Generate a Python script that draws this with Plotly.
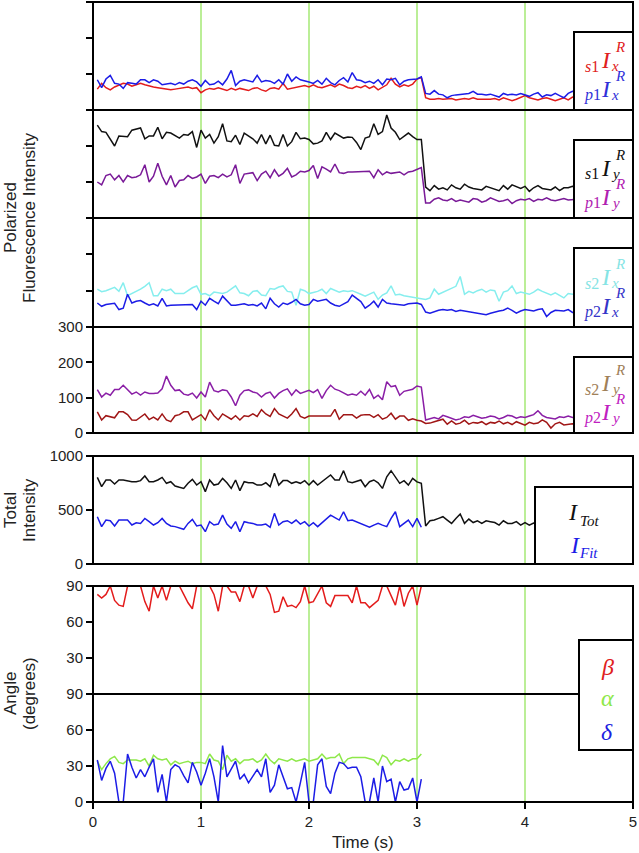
import plotly.graph_objects as go

W, H = 639, 853
DT = 0.04  # sampling interval (s)

# ---------------- data ----------------
# Panel 1 (0-300)
s1Ix = [58,74,62,56,64,70,74,72,66,70, 74,70,66,64,62,60,58,56,58,60,
        62,64,60,62,48,56,60,58,62,58, 54,60,56,60,58,54,60,62,56,52,
        60,62,58,74,58,60,64,66,68,64, 70,64,62,66,70,64,72,68,62,60,
        66,62,68,60,66,56,62,70,88,72, 64,70,66,72,86,90,
        34,30,30,32,30,30,32,28,30,32, 30,34,30,30,28,30,32,28,34,30,
        26,30,36,40,34,30,28,32,34,30, 26,30,34,28,36,34]
p1Ix = [84,62,86,96,74,72,60,76,74,72, 84,84,76,84,80,70,72,74,70,76,
        72,80,84,78,66,82,70,72,80,70, 86,110,68,80,84,82,78,96,78,82,
        80,74,84,72,100,80,92,84,82,78, 74,82,72,88,76,70,82,90,78,104,
        84,82,76,80,74,84,70,86,84,88, 70,80,84,84,86,92,
        46,44,54,44,42,34,40,42,44,44, 46,52,44,44,42,44,40,36,46,42,
        44,42,46,42,38,44,48,36,42,40, 46,40,34,46,52,50]
# Panel 2 (0-300)
s1Iy = [258,240,238,218,200,228,228,226,244,248, 250,220,228,228,252,220,238,236,228,222,
        232,230,240,196,244,222,232,208,226,262, 214,212,230,204,236,228,220,208,232,206,
        230,202,200,232,200,212,238,220,222,218, 206,208,214,238,218,236,228,222,225,224,
        210,190,222,226,262,232,240,286,250,238, 218,226,236,226,218,218,
        86,76,90,80,84,78,92,84,80,94, 86,82,80,78,88,84,82,76,90,80,
        92,86,82,88,74,84,90,82,80,78, 86,76,84,84,88,86]
p1Iy = [100,92,118,122,106,118,100,118,112,114, 120,148,100,116,152,116,92,118,86,104,
        106,118,110,114,122,96,116,118,112,122, 114,120,148,96,122,124,126,104,122,130,
        112,134,116,124,138,114,120,130,128,132, 146,110,142,136,128,150,126,124,128,128,
        128,130,128,130,112,134,120,128,124,126, 128,120,128,130,134,140,
        42,42,52,56,50,48,54,46,50,48, 44,54,52,44,48,56,50,46,48,52,
        40,48,52,50,54,46,52,50,56,50, 48,52,54,50,50,52]
# Panel 3 (0-300)
s2Ix = [104,97,100,104,109,98,122,86,92,97, 104,112,122,86,86,104,100,104,92,92,
        92,100,108,113,90,92,86,96,94,92, 96,104,113,94,92,86,98,100,88,86,
        106,104,110,113,98,96,60,104,100,92, 94,98,104,92,106,100,96,100,98,100,
        94,90,85,90,96,76,88,94,113,88, 90,86,84,82,80,78,
        76,80,104,90,96,100,106,112,139,90, 98,94,100,104,96,102,100,71,96,100,
        113,92,96,94,90,96,104,98,92,88, 94,86,80,92,90,92]
p2Ix = [66,57,62,64,65,48,52,90,66,71, 73,66,60,64,58,79,58,60,60,62,
        62,60,62,48,71,60,79,71,64,85, 71,60,60,62,64,60,62,58,66,50,
        79,64,55,66,62,68,76,64,60,62, 76,71,73,76,66,60,57,64,70,88,
        80,70,52,60,71,55,76,66,64,62, 62,60,64,66,66,62,
        41,38,43,46,48,46,48,43,46,44, 42,40,38,36,34,38,42,44,46,52,
        46,38,44,48,46,44,48,50,29,40, 46,46,44,48,40,40]
# Panel 4 (0-300)
s2Iy = [60,37,49,45,43,60,60,52,37,36, 45,54,38,45,37,54,37,32,49,52,
        60,60,37,45,52,37,66,49,37,54, 47,39,49,37,49,47,54,47,66,54,
        47,69,54,47,42,54,69,47,42,48, 48,48,48,48,48,67,39,52,52,52,
        42,50,52,52,44,52,39,44,56,39, 48,48,36,40,36,34,
        27,28,32,36,39,25,34,25,28,36, 25,30,28,32,24,30,28,34,26,30,
        24,32,28,22,30,26,28,37,30,14, 26,30,23,24,26,24]
p2Iy = [123,102,113,107,123,123,135,123,110,116, 107,116,112,112,113,125,161,135,120,122,
        110,107,113,99,116,102,144,120,116,122, 120,102,77,107,120,122,116,113,102,112,
        116,99,112,120,125,107,122,112,116,121, 114,123,98,120,135,124,120,114,107,110,
        107,118,107,123,98,107,94,145,131,134, 107,118,122,124,133,130,
        37,40,44,40,50,46,42,37,40,46, 44,50,46,42,44,48,46,40,44,50,
        48,42,46,44,48,52,63,50,44,42, 40,46,44,48,44,46]
# Panel 5 (0-1000)
ITot = [802,716,778,778,741,778,778,768,762,762, 772,815,762,762,778,802,747,762,722,710,
        700,747,784,731,762,670,778,731,741,793, 752,700,778,679,762,752,752,731,731,752,
        716,840,731,772,772,747,762,747,772,731, 772,731,762,793,824,778,778,864,762,752,
        768,778,716,762,778,752,700,808,864,802, 747,772,731,793,760,747,
        352,400,407,422,438,407,376,422,463,376, 416,384,400,376,400,392,384,360,400,376,
        376,392,360,384,360,380,376,392,407,440, 450,460,450,440,455,450]
IFit = [438,346,407,401,352,407,407,407,361,382, 376,422,392,361,382,422,376,352,346,330,
        321,376,413,352,361,299,392,361,370,453, 370,330,392,299,392,382,376,361,361,370,
        340,469,361,392,401,376,407,370,392,352, 382,346,380,413,453,430,407,484,401,407,
        390,376,360,340,360,376,360,346,422,484, 346,380,407,346,422,340]
# Panel 6 (angles, degrees)
beta = [83,80,83,90,78,74,73,90,90,90, 90,77,69,90,80,90,78,90,90,90,
        83,76,71,90,90,90,90,83,69,90, 90,85,85,77,90,90,80,90,90,90,
        83,68,69,81,73,74,72,77,90,76, 77,83,90,76,73,82,82,82,82,76,
        90,76,76,72,75,78,90,90,82,74, 90,73,84,90,74,90]
alpha = [34,27,32,36,38,33,32,35,35,35, 34,36,30,39,36,35,36,31,34,32,
         33,34,32,33,33,32,40,35,34,27, 39,34,36,32,35,35,36,33,35,40,
         35,32,36,35,34,36,34,35,36,34, 35,36,40,36,37,37,40,32,36,37,
         37,37,37,36,35,31,39,37,31,35, 34,36,34,36,36,40]
delta = [35,18,28,34,24,0,0,40,29,20, 27,21,29,36,8,23,0,27,31,29,
         22,16,33,25,14,24,36,21,0,47, 21,28,34,19,23,16,22,27,21,36,
         8,14,31,21,11,12,0,16,33,0, 0,31,36,13,7,24,33,32,28,29,
         29,21,0,0,20,0,30,17,19,0, 17,10,11,20,0,19]

x_ticks = [0, 1, 2, 3, 4, 5]
marker_times = [1, 2, 3, 4]

# ---------------- helpers ----------------
def fx(p):
    return p / W

def fy(p):
    return 1 - p / H

def times(vals):
    return [round(DT * (i + 1), 2) for i in range(len(vals))]

X0, X1 = 93, 633
panels = [(2, 110), (110, 218), (218, 327), (327, 433), (456, 564), (586, 694), (694, 802)]

fig = go.Figure()

def add(vals, color, ax, width=1.5):
    fig.add_trace(go.Scatter(x=times(vals), y=vals, mode="lines",
                             line=dict(color=color, width=width),
                             xaxis="x", yaxis=ax, showlegend=False, hoverinfo="skip"))

RED, BLUE, BLACK = "#e31c1c", "#1c1ce6", "#111111"
add(s1Ix, RED, "y")
add(p1Ix, BLUE, "y")
add(s1Iy, BLACK, "y2")
add(p1Iy, "#7a1a98", "y2")
add(s2Ix, "#86eeee", "y3")
add(p2Ix, "#1c1ce6", "y3")
add(s2Iy, "#a01616", "y4")
add(p2Iy, "#8a1ea6", "y4")
add(ITot, BLACK, "y5")
add(IFit, BLUE, "y5")
add(beta, RED, "y6")
add(alpha, "#8ee84a", "y7")
add(delta, BLUE, "y7")

tickfont = dict(family="Liberation Sans, Arial, sans-serif", size=15, color="#222")
common = dict(showgrid=False, zeroline=False, ticks="outside", ticklen=6, tickwidth=1.5,
              tickcolor="black", showline=False, tickfont=tickfont, anchor="x",
              automargin=False)

ycfg = [
    dict(range=[0, 300], tickvals=[0, 100, 200, 300], ticktext=["", "", "", ""]),
    dict(range=[0, 300], tickvals=[0, 100, 200, 300], ticktext=["", "", "", ""]),
    dict(range=[0, 300], tickvals=[0, 100, 200, 300], ticktext=["", "", "", ""]),
    dict(range=[0, 300], tickvals=[0, 100, 200, 300], ticktext=["0", "100", "200", "300"]),
    dict(range=[0, 1000], tickvals=[0, 500, 1000], ticktext=["0", "500", "1000"]),
    dict(range=[0, 90], tickvals=[0, 30, 60, 90], ticktext=["", "30", "60", "90"]),
    dict(range=[0, 90], tickvals=[0, 30, 60, 90], ticktext=["0", "30", "60", "90"]),
]

layout = dict(
    width=W, height=H, margin=dict(l=0, r=0, t=0, b=0, pad=0, autoexpand=False),
    paper_bgcolor="white", plot_bgcolor="rgba(0,0,0,0)",
    xaxis=dict(domain=[fx(X0), fx(X1)], range=[0, 5], anchor="y7", tickvals=x_ticks,
               ticktext=[str(v) for v in x_ticks], showgrid=False, zeroline=False,
               ticks="outside", ticklen=6, tickwidth=1.5, tickcolor="black",
               showline=False, tickfont=tickfont, automargin=False),
)
for k, ((top, bot), cfg) in enumerate(zip(panels, ycfg)):
    name = "yaxis" if k == 0 else f"yaxis{k+1}"
    d = dict(common)
    d.update(cfg)
    d["domain"] = [fy(bot), fy(top)]
    layout[name] = d
fig.update_layout(**layout)

shapes = []
# green time markers (behind data)
for tm in marker_times:
    for top, bot in [(2, 433), (456, 564), (586, 802)]:
        shapes.append(dict(type="line", xref="x", yref="paper", x0=tm, x1=tm,
                           y0=fy(bot), y1=fy(top), layer="below",
                           line=dict(color="#a4e874", width=1.5)))
# frames
for top, bot in [(2, 433), (456, 564), (586, 802)]:
    shapes.append(dict(type="rect", xref="paper", yref="paper", x0=fx(X0), x1=fx(X1),
                       y0=fy(bot), y1=fy(top), line=dict(color="black", width=2)))
for yy in [110, 218, 327, 694]:
    shapes.append(dict(type="line", xref="paper", yref="paper", x0=fx(X0), x1=fx(X1),
                       y0=fy(yy), y1=fy(yy), line=dict(color="black", width=2)))
# legend boxes
boxes = [(574, 32, 633, 110), (574, 140, 633, 218), (574, 248, 633, 327),
         (574, 357, 633, 433), (535, 487, 633, 564), (579, 640, 633, 750)]
for x0, y0, x1, y1 in boxes:
    shapes.append(dict(type="rect", xref="paper", yref="paper", x0=fx(x0), x1=fx(x1),
                       y0=fy(y1), y1=fy(y0), fillcolor="white",
                       line=dict(color="black", width=2)))
fig.update_layout(shapes=shapes)

SERIF = "Liberation Serif, Times New Roman, serif"
ann = []

def txt(x, y, text, size, color, angle=0, family=SERIF):
    ann.append(dict(x=fx(x), y=fy(y), xref="paper", yref="paper", text=text,
                    showarrow=False, xanchor="center", yanchor="middle", textangle=angle,
                    borderpad=0, font=dict(family=family, size=size, color=color)))

def entry(cx, c, prefix, sub, color):
    txt(cx, c, "<i>I</i>", 24, color)
    txt(cx - 14, c + 6, prefix, 16, color)
    txt(cx + 9, c + 6, f"<i>{sub}</i>", 15, color)
    txt(cx + 14, c - 13, "<i>R</i>", 15, color)

legend_rows = [
    (110, [("<i>s</i>1", "x", "#e02020"), ("<i>p</i>1", "x", "#3030d8")]),
    (218, [("<i>s</i>1", "y", "#111111"), ("<i>p</i>1", "y", "#b020b0")]),
    (327, [("<i>s</i>2", "x", "#86e4e4"), ("<i>p</i>2", "x", "#3434c8")]),
    (433, [("<i>s</i>2", "y", "#a08058"), ("<i>p</i>2", "y", "#c020c0")]),
]
for b, (e1, e2) in legend_rows:
    entry(606, b - 50, *e1)
    entry(606, b - 21, *e2)

# total intensity legend
txt(573, 512, "<i>I</i>", 24, BLACK)
txt(589, 521, "<i>Tot</i>", 15, BLACK)
txt(575, 545, "<i>I</i>", 24, BLUE)
txt(588, 553, "<i>Fit</i>", 15, BLUE)
# angle legend
txt(607, 667, "<i>β</i>", 24, "#e02020")
txt(607, 698, "<i>α</i>", 24, "#8ee84a")
txt(607, 732, "<i>δ</i>", 24, "#2020e0")

SANS = "Liberation Sans, Arial, sans-serif"
txt(10, 218, "Polarized", 17, "#222", angle=-90, family=SANS)
txt(29, 218, "Fluorescence Intensity", 17, "#222", angle=-90, family=SANS)
txt(10, 510, "Total", 17, "#222", angle=-90, family=SANS)
txt(29, 510, "Intensity", 17, "#222", angle=-90, family=SANS)
txt(10, 694, "Angle", 17, "#222", angle=-90, family=SANS)
txt(29, 694, "(degrees)", 17, "#222", angle=-90, family=SANS)
txt(363, 842, "Time (s)", 17, "#222", family=SANS)

fig.update_layout(annotations=ann)
fig.write_html("out.html", config={"displayModeBar": False},
               post_script="document.body.style.margin='0';")
